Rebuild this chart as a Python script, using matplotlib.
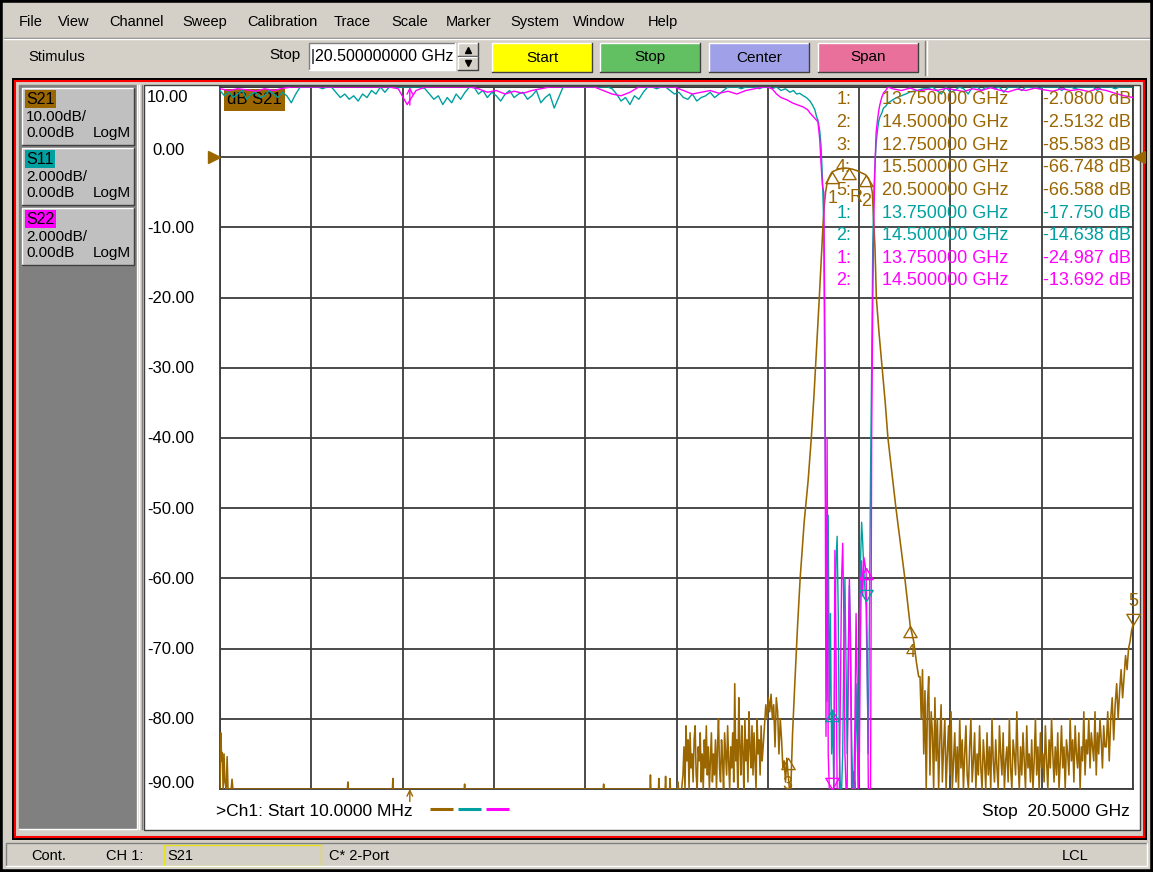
import numpy as np
import matplotlib
matplotlib.use("Agg")
import matplotlib.pyplot as plt
from matplotlib.patches import Rectangle
from matplotlib.transforms import blended_transform_factory

plt.rcParams['font.family'] = ['Liberation Sans', 'DejaVu Sans']

W, H = 1153, 872
BROWN = '#9a6600'
TEAL = '#00a0a0'
MAGENTA = '#ff00ff'
GUI = '#d4d0c8'

# sweep / scale settings shown on the analyzer
f_start, f_stop = 0.01, 20.5          # GHz
s21_top, s21_bot = 10.0, -90.0        # S21: 10 dB/div
s11_top, s11_bot = 0.0, -20.0         # S11, S22: 2 dB/div
y_ticks = [10, 0, -10, -20, -30, -40, -50, -60, -70, -80, -90]

# ---------------- S21 (dB) ----------------
s21_edge_f = [0.01, 0.03, 0.045, 0.06, 0.08, 0.10, 0.12, 0.15, 0.17, 0.19, 0.22, 0.26, 0.28, 0.30, 0.33]
s21_edge = [-90, -82, -86, -84.8, -90, -85, -89, -90, -85.4, -90, -90, -90, -88.6, -90, -90]

s21_floor_f = [0.40, 2.87, 2.88, 2.89, 3.88, 3.89, 3.90, 5.49, 5.50, 5.51, 8.61, 8.62, 8.63,
               9.66, 9.67, 9.68, 9.85, 9.86, 9.87, 10.00, 10.01, 10.02, 10.10, 10.11, 10.12,
               10.28, 10.29, 10.30, 10.37]
s21_floor = [-90, -90, -89, -90, -90, -88.5, -90, -90, -89.3, -90, -90, -89.3, -90,
             -90, -88, -90, -90, -88.5, -90, -90, -88.2, -90, -90, -88.5, -90,
             -90, -89, -90, -90]

s21_noise_lo = [-88, -84, -90, -81, -86, -83, -90, -82, -87, -85,
                -89, -83, -81, -88, -90, -84, -86, -82, -89, -85,
                -90, -83, -87, -81, -88, -84, -90, -86, -82, -89,
                -85, -88, -83, -90, -84, -80, -87, -89, -83, -86,
                -90, -82, -85, -88, -81, -86, -90, -84, -87, -82,
                -89, -75, -86, -83, -90, -77, -84, -88, -81, -85,
                -90, -80, -86, -83, -89, -79, -84, -87, -81, -88,
                -82, -86, -90, -80, -85, -83, -88, -81, -86, -84]
s21_bump = [-81, -78, -80, -77, -79, -76.5, -80, -78, -84, -77,
            -79, -85, -80, -83, -87, -86, -89, -85.6, -88, -90]

s21_band_f = [12.82, 12.86, 12.91, 12.97, 13.03, 13.12, 13.21, 13.28, 13.34, 13.40, 13.46, 13.50,
              13.54, 13.57, 13.60, 13.64, 13.70, 13.75, 13.85, 13.95, 14.05, 14.12, 14.20, 14.30,
              14.40, 14.50, 14.56, 14.61, 14.65, 14.68, 14.71, 14.74, 14.80, 14.87, 14.94, 15.00,
              15.09, 15.18, 15.28, 15.38, 15.50, 15.58, 15.64, 15.69]
s21_band = [-90, -82, -75, -67, -60, -52, -46, -40, -34, -27, -20, -15,
            -10, -7, -5, -3.5, -2.6, -2.08, -1.8, -1.6, -1.55, -1.6, -1.7, -1.9,
            -2.2, -2.51, -3.0, -3.8, -5.0, -9, -13, -20, -25, -30, -35, -40,
            -45, -50, -55, -60, -66.75, -69, -72, -74]

s21_noise_hi = [-74, -80, -73, -85, -76, -90, -78, -74, -88, -79, -82, -90, -77, -86, -80, -90, -83, -78, -89, -84,
                -80, -90, -85, -81, -88, -79, -90, -86, -82, -89, -84, -90, -80, -87, -83, -90, -85, -81, -88, -90,
                -84, -80, -89, -86, -82, -90, -85, -88, -81, -87, -90, -83, -86, -90, -82, -88, -84, -90, -80, -86,
                -89, -83, -87, -90, -81, -85, -88, -82, -90, -86, -84, -89, -80, -87, -90, -83, -85, -88, -79, -86,
                -90, -84, -88, -82, -86, -90, -81, -87, -85, -89, -83, -90, -86, -80, -88, -84, -90, -82, -87, -85,
                -89, -81, -86, -90, -83, -87, -80, -85, -89, -84, -88, -82, -90, -86, -81, -87, -84, -90, -83, -85,
                -88, -80, -86, -83, -89, -81, -85, -87, -82, -90, -84, -86, -79, -88, -83, -85, -80, -87, -82, -84,
                -86, -79, -88, -82, -85, -80, -83, -87, -81, -84]
s21_rise = [-84, -79, -86, -80, -77, -83, -78, -75, -80, -76,
            -73, -77, -74, -71, -73, -70, -69, -67.5, -66.6]

# ---------------- S11 (dB) ----------------
s11_top_a = [-0.1, -0.25, -0.15, -0.3, -0.2, -0.1, -0.35, -0.2, -0.15, -0.3, -0.25, -0.1, -0.2, -0.3, -0.15, -0.25, -0.45, -0.2,
             0.1, 0.15, 0.05, 0.2, 0.1, -0.05, 0.1, 0.05,
             -0.15, -0.3, -0.2, -0.35, -0.25, -0.4, -0.2, -0.3,
             -0.1, -0.2, 0.05, -0.15, 0.1, 0.05,
             0.1, 0.15, 0.05, 0.1, 0.2, 0.1, -0.05,
             -0.2, -0.35, -0.25, -0.5, -0.3, -0.45, -0.2, -0.35, -0.15,
             0.05, 0.1,
             -0.2, -0.1, -0.3, -0.15, -0.25, -0.4, -0.2, -0.1, -0.3, -0.2, -0.15, -0.35, -0.25, -0.1, -0.45, -0.3, -0.2, -0.6, -0.3,
             0.1, 0.05, 0.15, 0.1, 0.2, 0.1, 0.05, 0.15, 0.1, 0.05, 0.1, -0.05,
             -0.2, -0.4, -0.3, -0.5, -0.25, -0.35, -0.15,
             0.05, 0.1, -0.05, 0.1, 0.05, -0.1, -0.2, -0.15, -0.3,
             -0.35, -0.2, -0.4, -0.3, -0.25, -0.15, -0.3, -0.2, -0.1, 0.05,
             0.05, 0.1, -0.05, 0.05, 0.1, 0.05, -0.05, 0.05, 0.0]
s11_fall_f = [12.40, 12.50, 12.60, 12.70, 12.80, 12.88, 12.95, 13.02, 13.10, 13.17,
              13.25, 13.30, 13.36, 13.40, 13.43, 13.47, 13.50, 13.52, 13.54]
s11_fall = [-0.05, 0.0, -0.1, -0.05, -0.15, -0.1, -0.2, -0.18, -0.25, -0.3,
            -0.4, -0.5, -0.65, -0.85, -0.95, -1.25, -1.7, -2.3, -3.0]
s11_pass = [-4, -9, -13, -17.5, -12.2, -18, -15, -19, -17.75, -20.5,
            -16, -13.5, -12.8, -15, -19, -21, -23, -19, -16, -14,
            -16.5, -19, -17, -14.2, -15.5, -18.5, -21, -19.5, -22, -17,
            -18.5, -20, -16, -13.5, -12.4, -13, -13.8, -14.3, -14.8, -17,
            -19, -15, -11, -8, -4.5, -3.0, -2.2, -1.6]
s11_rec_f = [14.76, 14.79, 14.82, 14.86, 14.90, 14.95, 15.00, 15.05, 15.10, 15.20,
             15.30, 15.40, 15.50, 15.65, 15.80]
s11_rec = [-1.3, -1.0, -0.85, -0.75, -0.6, -0.55, -0.45, -0.42, -0.37, -0.3,
           -0.25, -0.2, -0.14, -0.1, -0.05]
s11_top_b = [-0.05, 0.05, -0.1, -0.2, 0.05, -0.15, -0.1, 0.1, -0.05, -0.2,
             0.05, 0.1, -0.1, 0.05, 0.15, -0.05, 0.1, -0.15, 0.05, 0.1,
             0.05, -0.1, 0.1, 0.15, 0.05, -0.05, 0.1, 0.05, 0.15, 0.1,
             -0.1, 0.05, 0.1, -0.05, 0.1, 0.15, 0.05, 0.1, -0.1, 0.05,
             0.1, 0.05, -0.05, 0.1, 0.05, 0.1, 0.05]

# ---------------- S22 (dB) ----------------
s22_top_a = [-0.05, -0.1, -0.05, -0.08, -0.12, -0.05, -0.1, -0.04,
             0.1, 0.15, 0.1, 0.2, 0.1, 0.05, 0.15, 0.1, 0.2, 0.1, 0.15, 0.05,
             -0.05, -0.5, -0.1,
             0.1, 0.05, 0.15, 0.1, 0.2, 0.05,
             -0.05, -0.15, -0.1, -0.2, -0.12, -0.18, -0.1, -0.05,
             0.1, 0.15, 0.05, 0.1, 0.2, 0.1,
             -0.1, -0.2, -0.25, -0.15,
             0.05, 0.1, 0.05, 0.15, 0.05,
             -0.1, -0.2, -0.15, -0.1, -0.18, -0.12, -0.2, -0.1, -0.05, 0.0]
s22_fall_f = [12.30, 12.40, 12.50, 12.60, 12.74, 12.85, 12.95, 13.10, 13.20, 13.25,
              13.33, 13.40, 13.43, 13.47, 13.50, 13.53]
s22_fall = [0.05, -0.05, -0.2, -0.3, -0.37, -0.45, -0.5, -0.57, -0.65, -0.74,
            -0.85, -0.95, -1.0, -1.5, -2.2, -2.8]
s22_pass = [-3, -7, -18.5, -10, -19, -22, -24, -25, -24, -20,
            -13.2, -16, -21, -24, -22, -17, -14, -13, -15, -19,
            -23, -21, -16, -14, -16.5, -20, -24, -22, -18, -15,
            -17, -21, -19, -15.5, -13.5, -14.5, -13.4, -13.6, -13.8, -16,
            -21, -24, -20, -10, -6, -3.6, -2.2, -1.3]
s22_rec_f = [14.76, 14.79, 14.82, 14.86, 14.90, 14.95, 15.00]
s22_rec = [-1.0, -0.7, -0.5, -0.3, -0.17, -0.1, 0.0]
s22_top_b = [-0.05, -0.1, -0.03, -0.12, -0.06, -0.1, -0.04, -0.08, -0.13, -0.05,
             -0.1, -0.02, -0.09, -0.14, -0.06, -0.1, -0.03, -0.08, -0.12, -0.05,
             -0.1, -0.07, -0.13, -0.05, -0.1, -0.18, -0.25, -0.3]

# ---------------- markers ----------------
s21_mk_f = [13.75, 14.50, 12.75, 15.50, 20.50]
s21_mk_v = [-2.0800, -2.5132, -85.583, -66.748, -66.588]
s21_ref_f, s21_ref_v = 14.12, -1.6
s11_mk_f = [13.75, 14.50]
s11_mk_v = [-17.750, -14.638]
s22_mk_f = [13.75, 14.50]
s22_mk_v = [-24.987, -13.692]
stim_f = 4.27

# ---------------- assemble traces ----------------
s21_f = np.concatenate([s21_edge_f, s21_floor_f,
                        np.linspace(10.40, 12.20, len(s21_noise_lo)),
                        np.linspace(12.23, 12.79, len(s21_bump)),
                        s21_band_f,
                        np.linspace(15.72, 19.87, len(s21_noise_hi)),
                        np.linspace(19.90, 20.50, len(s21_rise))])
s21 = np.concatenate([s21_edge, s21_floor, s21_noise_lo, s21_bump, s21_band, s21_noise_hi, s21_rise])

s11_f = np.concatenate([np.linspace(0.01, 12.31, len(s11_top_a)), s11_fall_f,
                        np.linspace(13.56, 14.735, len(s11_pass)), s11_rec_f,
                        np.linspace(15.90, 20.50, len(s11_top_b))])
s11 = np.concatenate([s11_top_a, s11_fall, s11_pass, s11_rec, s11_top_b])

s22_f = np.concatenate([np.linspace(0.01, 12.21, len(s22_top_a)), s22_fall_f,
                        np.linspace(13.56, 14.735, len(s22_pass)), s22_rec_f,
                        np.linspace(15.10, 20.50, len(s22_top_b))])
s22 = np.concatenate([s22_top_a, s22_fall, s22_pass, s22_rec, s22_top_b])

# ---------------- window chrome ----------------
fig = plt.figure(figsize=(W / 100, H / 100), dpi=100)
fig.patch.set_facecolor(GUI)
bg = fig.add_axes([0, 0, 1, 1])
bg.set_xlim(0, W)
bg.set_ylim(H, 0)
bg.set_axis_off()


def box(x0, y0, x1, y1, fc='none', ec='none', lw=1.0, z=1):
    bg.add_patch(Rectangle((x0, y0), x1 - x0, y1 - y0, fc=fc, ec=ec, lw=lw, zorder=z))


def bevel(x0, y0, x1, y1, up=True, z=2):
    hi, lo = ('#ffffff', '#404040') if up else ('#808080', '#ffffff')
    bg.plot([x0, x0, x1], [y1, y0, y0], color=hi, lw=1, zorder=z)
    bg.plot([x0, x1, x1], [y1, y1, y0], color=lo, lw=1, zorder=z)


def label(x, y, s, size=10.5, ha='left', color='black', **kw):
    bg.text(x, y, s, fontsize=size, ha=ha, va='center', color=color, zorder=5, **kw)


box(0, 0, W, H, ec='black', lw=4, z=10)

# menu bar
menu = [('File', 19), ('View', 58), ('Channel', 109), ('Sweep', 182), ('Calibration', 247),
        ('Trace', 334), ('Scale', 391), ('Marker', 446), ('System', 510), ('Window', 573), ('Help', 648)]
for s, x in menu:
    label(x, 22, s)
bg.plot([4, W - 4], [38, 38], color='#808080', lw=1)
bg.plot([4, W - 4], [39.5, 39.5], color='white', lw=1)

# toolbar
label(28, 57, 'Stimulus')
label(300, 55, 'Stop', ha='right', size=11)
box(309, 43, 455, 70, fc='white')
bevel(309, 43, 455, 70, up=False)
label(311, 56, '|20.500000000 GHz', size=11.5)
box(458, 43, 478, 70, fc=GUI)
bevel(458, 43, 478, 56)
bevel(458, 57, 478, 70)
bg.plot([468], [50], marker='^', ms=4, color='black')
bg.plot([468], [63], marker='v', ms=4, color='black')
buttons = [('Start', 492, 592, '#ffff00'), ('Stop', 600, 700, '#62bf62'),
           ('Center', 709, 809, '#a0a0e8'), ('Span', 818, 918, '#e8709a')]
for s, x0, x1, c in buttons:
    box(x0, 43, x1, 72, fc=c)
    bevel(x0, 43, x1, 72)
    label((x0 + x1) / 2, 57.5, s, ha='center', size=11)
bg.plot([925, 925], [41, 75], color='#808080', lw=1)
bg.plot([927, 927], [41, 75], color='white', lw=1)

# channel window frame
box(12, 78, 1147, 840, fc='black')
box(15, 81, 1144, 837, fc=GUI, ec='#ff0000', lw=1.5)
box(19, 85, 137, 829, fc='#808080')
bevel(19, 85, 137, 829, up=False)
box(144, 85, 1140, 830, fc='white', ec='#404040', lw=1)
bg.plot([139, 139], [85, 829], color='white', lw=1)
bg.plot([142, 142], [85, 829], color='#808080', lw=1)

# trace buttons in the left panel
trace_btn = [('S21', BROWN, '10.00dB/', 88), ('S11', TEAL, '2.000dB/', 148), ('S22', MAGENTA, '2.000dB/', 208)]
for name, c, scale, y0 in trace_btn:
    box(22, y0, 134, y0 + 57, fc='#c0c0c0')
    bevel(22, y0, 134, y0 + 57)
    bg.text(26, y0 + 11, name, fontsize=11.5, va='center', ha='left', zorder=6,
            bbox=dict(boxstyle='square,pad=0.08', fc=c, ec='none'))
    label(26, y0 + 29, scale, size=11)
    label(26, y0 + 45, '0.00dB', size=11)
    label(131, y0 + 45, 'LogM', size=11, ha='right')

# status bar
bevel(6, 843, 1147, 866, up=False)
label(31, 856, 'Cont.')
label(106, 856, 'CH 1:')
box(164, 845, 321, 866, ec='#e8e020', lw=1)
label(167, 856, 'S21')
label(329, 856, 'C* 2-Port')
label(1062, 856, 'LCL')

# footer of the plot panel
label(216, 811, '>Ch1: Start 10.0000 MHz', size=12.5)
for c, x0 in [(BROWN, 430), (TEAL, 458), (MAGENTA, 486)]:
    bg.plot([x0, x0 + 23], [809, 809], color=c, lw=2.2, solid_capstyle='butt', zorder=5)
label(1130, 811, 'Stop  20.5000 GHz', size=12.5, ha='right')

# ---------------- data axes ----------------
ax = fig.add_axes([220 / W, 1 - 789 / H, 913 / W, 702 / H])
ax.set_xlim(f_start, f_stop)
ax.set_ylim(s21_bot, s21_top)
ax.set_xticks(np.linspace(f_start, f_stop, 11))
ax.set_yticks(y_ticks)
ax.tick_params(length=0, labelbottom=False, labelleft=False)
ax.grid(True, color='#3c3c3c', lw=1.3)
for sp in ax.spines.values():
    sp.set_color('#3c3c3c')
    sp.set_linewidth(1.3)
ax.set_facecolor('white')

ax.plot(s21_f, np.clip(s21, s21_bot, s21_top), color=BROWN, lw=1.15, zorder=3)

ax2 = ax.twinx()
ax2.set_ylim(s11_bot, s11_top)
ax2.set_axis_off()
ax2.plot(s11_f, np.clip(s11, s11_bot, s11_top), color=TEAL, lw=1.0, zorder=3)
ax2.plot(s22_f, np.clip(s22, s11_bot, s11_top), color=MAGENTA, lw=1.0, zorder=4)

# y scale labels
yl = blended_transform_factory(ax.transAxes, ax.transData)
for v in y_ticks:
    xf, dy = -0.080, -0.7
    if v == s21_top:
        dy = -7.5
    elif v == 0:
        xf, dy = -0.0745, 5.0
    elif v == s21_bot:
        dy = 4.3
    ax.annotate(f'{v:.2f}', xy=(xf, v), xycoords=yl, xytext=(0, dy), textcoords='offset points',
                fontsize=12, ha='left', va='center', annotation_clip=False)

# reference level arrows
ax.plot([-0.0066], [0], marker='>', ms=9, color=BROWN, transform=yl, clip_on=False, zorder=6)
ax.plot([1.0066], [0], marker='<', ms=9, color=BROWN, transform=yl, clip_on=False, zorder=6)

ax.text(0.0077, 0.9815, 'dB S21', transform=ax.transAxes, fontsize=12, ha='left', va='center', zorder=7,
        bbox=dict(boxstyle='square,pad=0.2', fc=BROWN, ec='none'))

# marker symbols
UP = [(0, 0), (-0.6, -1), (0.6, -1), (0, 0)]
DOWN = [(0, 0), (-0.6, 1), (0.6, 1), (0, 0)]


def put_marker(axis, f, v, shape, c, lo, hi, txt=None, off=None):
    vv = min(max(v, lo), hi)
    axis.plot([f], [vv], marker=shape, ms=16, mfc='none', mec=c, mew=1.0, ls='none',
              clip_on=False, zorder=8)
    if txt:
        if off is None:
            off = (0, -19) if shape is UP else (0, 17)
        axis.annotate(txt, xy=(f, vv), xytext=off, textcoords='offset points', fontsize=13,
                      color=c, ha='center', va='center', annotation_clip=False, zorder=8)


s21_shapes = [UP, UP, UP, UP, DOWN]
for i, (f, v) in enumerate(zip(s21_mk_f, s21_mk_v)):
    put_marker(ax, f, v, s21_shapes[i], BROWN, s21_bot, s21_top, str(i + 1))
put_marker(ax, s21_ref_f, s21_ref_v, UP, BROWN, s21_bot, s21_top, 'R', off=(5, -21))
for f, v, shp in zip(s11_mk_f, s11_mk_v, [UP, DOWN]):
    put_marker(ax2, f, v, shp, TEAL, s11_bot, s11_top)
for f, v, shp in zip(s22_mk_f, s22_mk_v, [DOWN, UP]):
    put_marker(ax2, f, v, shp, MAGENTA, s11_bot, s11_top)

# stimulus arrows
ax.annotate('', xy=(stim_f, s21_bot), xytext=(0, -9), textcoords='offset points', annotation_clip=False,
            arrowprops=dict(arrowstyle='->', color=BROWN, lw=1, shrinkA=0, shrinkB=0))
ax2.annotate('', xy=(stim_f, s11_top), xytext=(0, -13), textcoords='offset points', annotation_clip=False,
             arrowprops=dict(arrowstyle='->', color=MAGENTA, lw=1, shrinkA=0, shrinkB=0))

# marker readout table
rows = ([(str(i + 1), f, v, BROWN) for i, (f, v) in enumerate(zip(s21_mk_f, s21_mk_v))]
        + [(str(i + 1), f, v, TEAL) for i, (f, v) in enumerate(zip(s11_mk_f, s11_mk_v))]
        + [(str(i + 1), f, v, MAGENTA) for i, (f, v) in enumerate(zip(s22_mk_f, s22_mk_v))])
for i, (n, f, v, c) in enumerate(rows):
    y = 1 - (100 + 22.6 * i) / H
    fig.text(851 / W, y, n + ':', fontsize=13, color=c, ha='right', va='center')
    fig.text(882 / W, y, f'{f:.6f} GHz', fontsize=13, color=c, ha='left', va='center')
    fig.text(1131 / W, y, f'{v:#.5g} dB', fontsize=13, color=c, ha='right', va='center')

fig.savefig('out.png', dpi=100, facecolor=fig.get_facecolor())
